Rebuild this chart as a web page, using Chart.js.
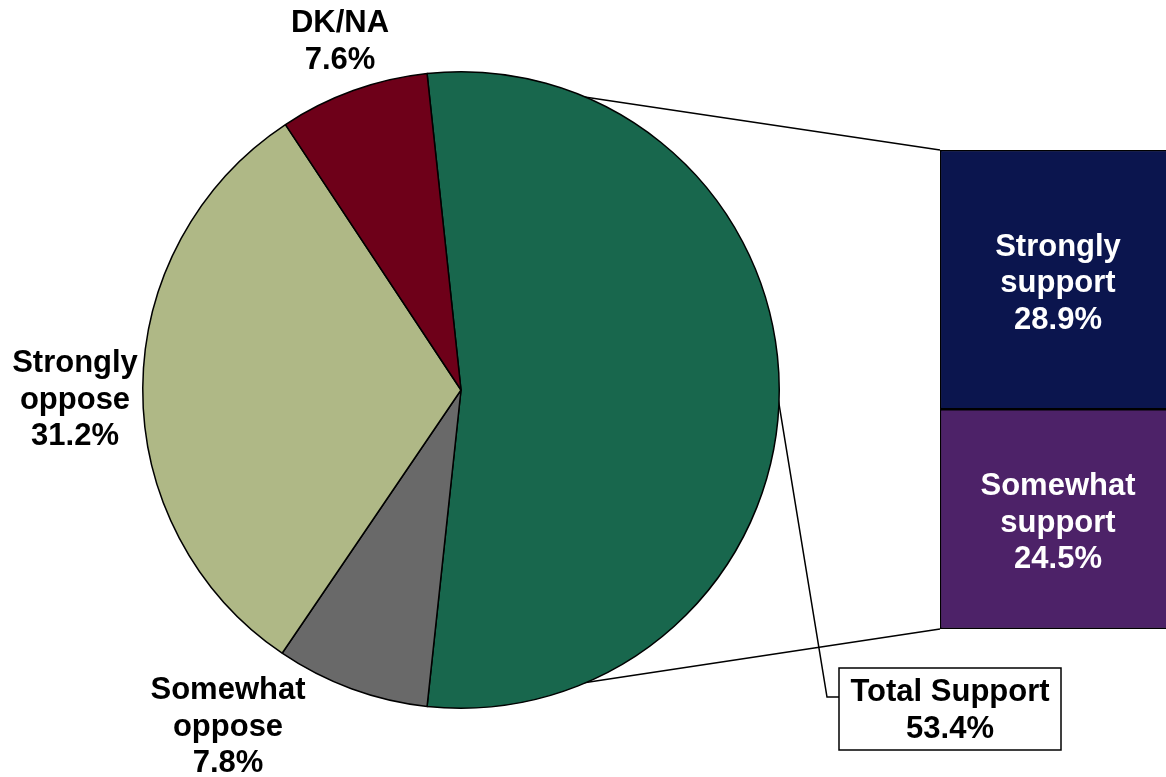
<!DOCTYPE html>
<html>
<head>
<meta charset="utf-8">
<script src="https://cdn.jsdelivr.net/npm/chart.js@4"></script>
<style>
html,body{margin:0;padding:0;background:#fff;overflow:hidden;width:1166px;height:777px;}
#wrap{position:relative;width:1166px;height:777px;}
#pie{position:absolute;left:0;top:0;}
#bar{position:absolute;left:940px;top:150px;}
</style>
</head>
<body>
<div id="wrap">
<canvas id="pie" width="1166" height="777"></canvas>
<canvas id="bar" width="230" height="479"></canvas>
</div>
<script>
const pieLabels = [["Total Support", "53.4%"], ["Somewhat", "oppose", "7.8%"], ["Strongly", "oppose", "31.2%"], ["DK/NA", "7.6%"]];
const pieValues = [53.4, 7.8, 31.2, 7.6];
const pieColors = ["#18674d", "#696969", "#afb886", "#6e0019"];

const barLabels = [["Somewhat", "support", "24.5%"], ["Strongly", "support", "28.9%"]];
const barValues = [24.5, 28.9];
const barColors = ["#4d2268", "#0b154e"];

const FONT = 'bold 31px "Liberation Sans", Arial, sans-serif';
const LINE_H = 36.5;

function drawLines(ctx, lines, cx, cy, color) {
  ctx.save();
  ctx.font = FONT;
  ctx.fillStyle = color;
  ctx.textAlign = 'center';
  ctx.textBaseline = 'middle';
  const n = lines.length;
  lines.forEach((t, i) => ctx.fillText(t, cx, cy + (i - (n - 1) / 2) * LINE_H));
  ctx.restore();
}

const barLabelPlugin = {
  id: 'barLabels',
  afterDatasetsDraw(chart) {
    const ctx = chart.ctx;
    chart.data.datasets.forEach((ds, i) => {
      const el = chart.getDatasetMeta(i).data[0];
      const cy = (el.y + el.base) / 2 + 4;
      drawLines(ctx, barLabels[i], 118, cy, '#ffffff');
    });
  }
};

const barChart = new Chart(document.getElementById('bar'), {
  type: 'bar',
  data: {
    labels: ['Support'],
    datasets: barValues.map((v, i) => ({
      label: barLabels[i].join(' '),
      data: [v],
      backgroundColor: barColors[i],
      borderColor: '#000000',
      borderWidth: 1.5,
      borderSkipped: false,
      barPercentage: 1,
      categoryPercentage: 1
    }))
  },
  options: {
    responsive: false,
    animation: false,
    layout: { padding: 0 },
    plugins: { legend: { display: false }, tooltip: { enabled: false } },
    scales: {
      x: { display: false, stacked: true },
      y: { display: false, stacked: true, min: 0, max: barValues.reduce((a, b) => a + b, 0) }
    }
  },
  plugins: [barLabelPlugin]
});

const barCanvas = document.getElementById('bar');
const BOX = { l: 839, r: 1061, t: 668, b: 750 };

const pieDecor = {
  id: 'pieDecor',
  beforeDatasetsDraw(chart) {
    const ctx = chart.ctx;
    const arc = chart.getDatasetMeta(0).data[0];
    const cx = arc.x, cy = arc.y, r = arc.outerRadius;
    const p1 = [cx + r * Math.cos(arc.startAngle), cy + r * Math.sin(arc.startAngle)];
    const p2 = [cx + r * Math.cos(arc.endAngle), cy + r * Math.sin(arc.endAngle)];
    const topEl = barChart.getDatasetMeta(1).data[0];
    const botEl = barChart.getDatasetMeta(0).data[0];
    const ox = barCanvas.offsetLeft, oy = barCanvas.offsetTop;
    const bx = ox + topEl.x - topEl.width / 2;
    const byTop = oy + topEl.y;
    const byBot = oy + botEl.base;
    ctx.save();
    ctx.strokeStyle = '#000';
    ctx.lineWidth = 1.5;
    ctx.beginPath();
    ctx.moveTo(p1[0], p1[1]); ctx.lineTo(bx, byTop);
    ctx.moveTo(p2[0], p2[1]); ctx.lineTo(bx, byBot);
    const mid = (arc.startAngle + arc.endAngle) / 2 + 0.01;
    ctx.moveTo(cx, cy);
    ctx.moveTo(cx + (r - 2) * Math.cos(mid), cy + (r - 2) * Math.sin(mid));
    ctx.lineTo(827, 697);
    ctx.lineTo(BOX.l, 697);
    ctx.stroke();
    ctx.restore();
  },
  afterDraw(chart) {
    const ctx = chart.ctx;
    ctx.save();
    ctx.fillStyle = '#fff';
    ctx.fillRect(BOX.l, BOX.t, BOX.r - BOX.l, BOX.b - BOX.t);
    ctx.strokeStyle = '#000';
    ctx.lineWidth = 1.5;
    ctx.strokeRect(BOX.l, BOX.t, BOX.r - BOX.l, BOX.b - BOX.t);
    ctx.restore();
    drawLines(ctx, pieLabels[0], (BOX.l + BOX.r) / 2, 711, '#000');
    drawLines(ctx, pieLabels[1], 228, 727, '#000');
    drawLines(ctx, pieLabels[2], 75, 400, '#000');
    drawLines(ctx, pieLabels[3], 340, 42, '#000');
  }
};

new Chart(document.getElementById('pie'), {
  type: 'pie',
  data: {
    labels: pieLabels.map(l => l.slice(0, -1).join(' ')),
    datasets: [{
      data: pieValues,
      backgroundColor: pieColors,
      borderColor: '#000000',
      borderWidth: 1.5
    }]
  },
  options: {
    responsive: false,
    animation: false,
    rotation: 90 - pieValues[0] / 100 * 180,
    layout: { padding: { left: 142, right: 386, top: 71, bottom: 68 } },
    plugins: { legend: { display: false }, tooltip: { enabled: false } }
  },
  plugins: [pieDecor]
});
</script>
</body>
</html>
